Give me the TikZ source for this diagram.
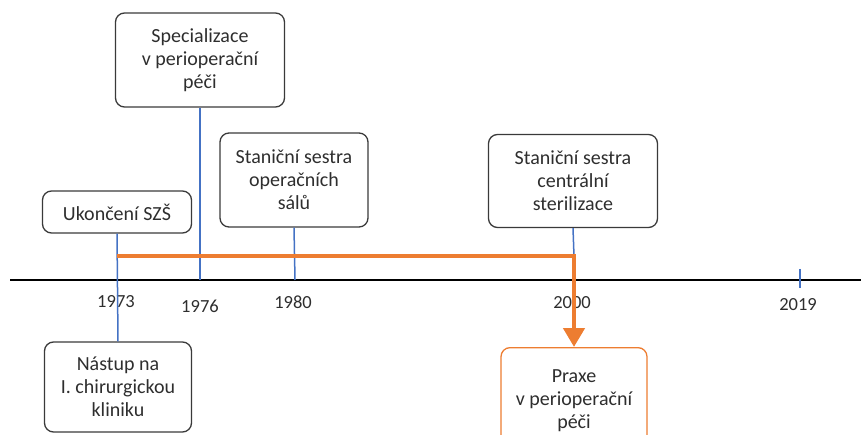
\documentclass[tikz,border=0pt]{standalone}
\usepackage{fontspec}
\setmainfont{Carlito}
\usetikzlibrary{arrows.meta}
\definecolor{boxgray}{HTML}{3A3A3A}
\definecolor{textgray}{HTML}{2E2E2E}
\definecolor{axisblue}{HTML}{4472C4}
\definecolor{pathorange}{HTML}{ED7D31}

\begin{document}
\begin{tikzpicture}
[x=1pt,y=-1pt]
\tikzstyle{event box}=[draw=boxgray,line width=1.3pt,rounded corners=9pt,align=center,
  text=textgray,font=\fontsize{20}{23}\selectfont,inner sep=2pt]
\tikzstyle{year}=[text=textgray,font=\fontsize{18.5}{20}\selectfont,inner sep=0pt]
\tikzstyle{year line}=[axisblue,line width=1.5pt]

\useasboundingbox (0,0) rectangle (861,435);

% osa
\coordinate(start) at (10,280);
\coordinate(end) at (861,280);
\draw[black,line width=1.8pt](start)--(end);

\coordinate(y1976) at (200,280);
\coordinate(y1980) at (295,280);
\coordinate(t2019a) at (800,269);
\coordinate(t2019b) at (800,288);

\node(1973)[year]at(116,302){1973};
\node(1976)[year]at(200,306){1976};
\node(1980)[year]at(293,302){1980};
\node(2000)[year]at(572,303){2000};
\node(2019)[year]at(798,305){2019};

% udalosti
\node(szs)[event box,minimum width=149,minimum height=42]at(117,212){Ukon\v{c}en\'i SZ\v{S}};
\node(spec)[event box,minimum width=169,minimum height=94]at(200,60)
  {Specializace\\v perioperačn\'i\\p\'e\v{c}i};
\node(sal)[event box,minimum width=148,minimum height=94]at(294,180)
  {Stani\v{c}n\'i sestra\\opera\v{c}n\'ich\\s\'al\r{u}};
\node(ster)[event box,minimum width=169,minimum height=93]at(573,181)
  {Stani\v{c}n\'i sestra\\centr\'aln\'i\\sterilizace};
\node(nastup)[event box,minimum width=147,minimum height=90]at(118,387)
  {N\'astup na\\I. chirurgickou\\kliniku};
\node(praxe)[event box,draw=pathorange,minimum width=146,minimum height=106,anchor=north]at(574,347)
  {Praxe\\v perioperačn\'i\\p\'e\v{c}i};

\coordinate(o1) at (117,256);
\coordinate(o2) at (574,256);

\draw[year line](szs.south)--(nastup.north);
\draw[year line](spec.south)--(y1976);
\draw[year line](sal.south)--(y1980);
\draw[year line](ster.south)--(o2);
\draw[year line](t2019a)--(t2019b);

\draw[pathorange,line width=4.5pt,-{Triangle[length=19pt,width=21pt]}]
  (o1)--(o2)--(praxe.north);
\end{tikzpicture}
\end{document}
